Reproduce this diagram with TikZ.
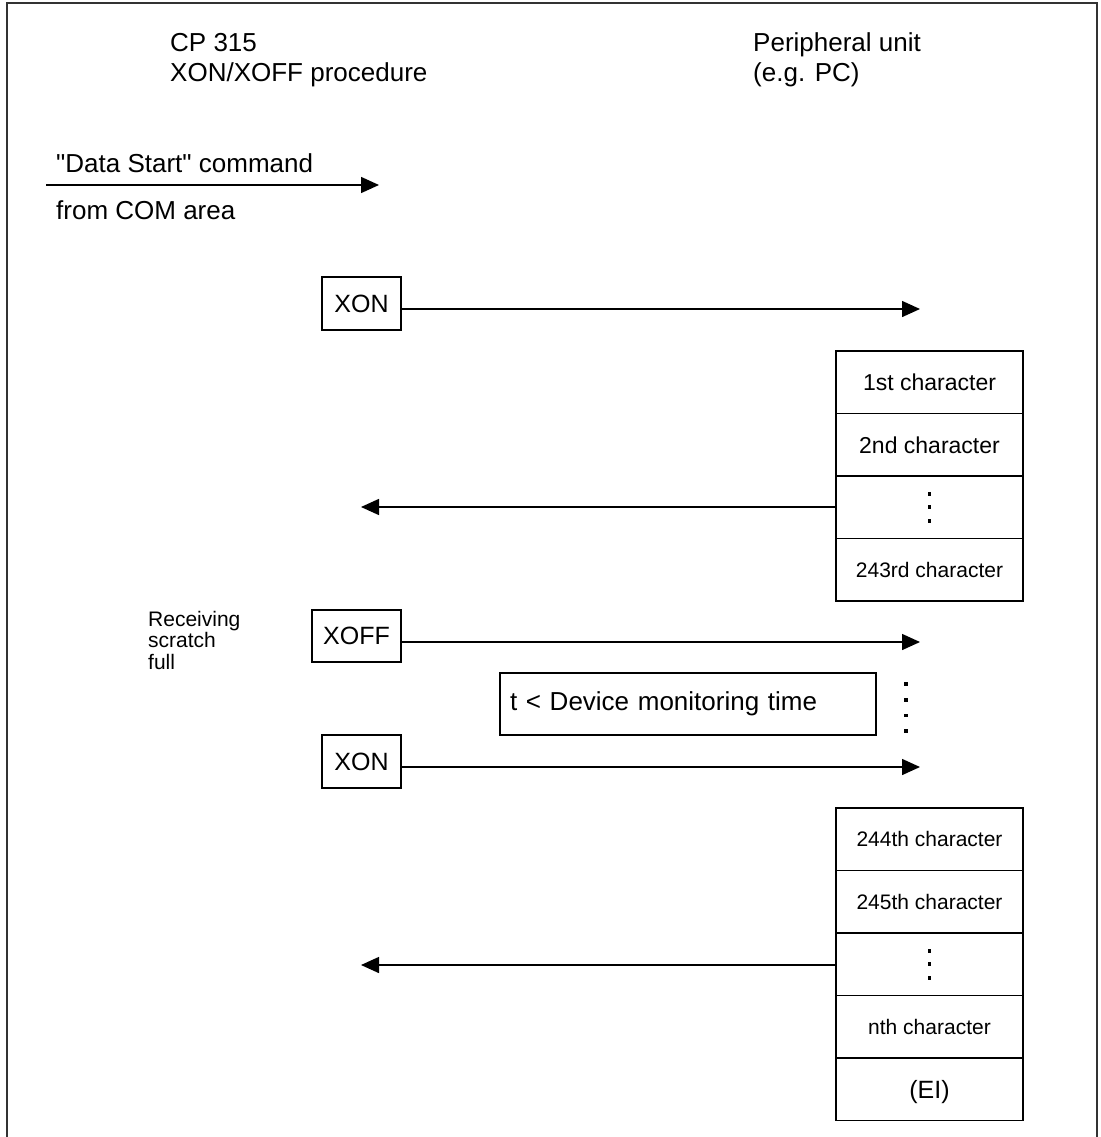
\documentclass[tikz,border=0pt]{standalone}
\usepackage{fontspec}
\setmainfont{Liberation Sans}
\usetikzlibrary{arrows.meta}
\begin{document}
\begin{tikzpicture}[x=1pt,y=-1pt,
  lw/.style={line width=1.5pt},
  frame/.style={line width=1.6pt, draw=black!80},
  head/.style={anchor=base west, inner sep=0pt, font=\fontsize{26}{30}\selectfont},
  note/.style={anchor=base west, inner sep=0pt, font=\fontsize{21}{25}\selectfont},
  sigbox/.style={draw, lw, inner sep=0pt, minimum height=53pt, font=\fontsize{25}{30}\selectfont},
  cell/.style={draw, lw, inner sep=0pt, minimum width=187pt, minimum height=62.5pt, text depth=0pt},
  cellL/.style={cell, font=\fontsize{23}{27}\selectfont, text height=16.5pt},
  cellS/.style={cell, font=\fontsize{21}{25}\selectfont, text height=15.1pt},
  cellE/.style={cell, font=\fontsize{25}{30}\selectfont, text height=18pt},
  msg/.style={lw, -{Triangle[length=18pt,width=16pt]}},
  dot/.style={rectangle, fill, inner sep=0pt, minimum size=3.6pt},
]
\useasboundingbox (0,0) rectangle (1100,1137);

% outer frame
\draw[frame] (7,1137) -- (7,3) -- (1097,3) -- (1097,1137);

% column headings
\node[head] (cp)   at (170,52) {CP 315};
\node[head] (proc) at (170,82) {XON/XOFF procedure};
\node[head] (pu)   at (753,52) {Peripheral unit};
\node[head] (pc)   at (753,82) {(e.g. PC)};

% start command
\node[head] (ds)  at (56,172) {\textquotedbl Data Start\textquotedbl{} command};
\node[head] (com) at (56,219) {from COM area};
\coordinate (s0) at (46,185);
\coordinate (t0) at (379,185);
\draw[msg] (s0) -- (t0);

% first XON
\node[sigbox, minimum width=79pt] (xon1) at (361.5,303.5) {XON};
\coordinate (t1) at (920,309);
\draw[msg] (xon1.east |- t1) -- (t1);

% first block of characters
\node[cellL] (a1) at (929.5,382.25) {1st character};
\node[cellL] (a2) at (929.5,444.75) {2nd character};
\node[cell]  (a3) at (929.5,507.25) {};
\node[cellS] (a4) at (929.5,569.75) {243rd character};
\foreach \d in {-13.5,0,13.5} \node[dot] at ([yshift=\d pt]a3.center) {};
\coordinate (r1) at (361,507);
\draw[msg] (a3.west |- r1) -- (r1);

% XOFF when the buffer is full
\node[note] (rc1) at (148,626) {Receiving};
\node[note] (rc2) at (148,647.5) {scratch};
\node[note] (rc3) at (148,669) {full};
\node[sigbox, minimum width=89pt, minimum height=52pt] (xoff) at (356.5,636) {XOFF};
\coordinate (t2) at (920,642);
\draw[msg] (xoff.east |- t2) -- (t2);

% waiting time
\node[draw, lw, minimum width=376pt, minimum height=62pt, text width=356pt,
      inner xsep=10pt, inner ysep=0pt, align=left, font=\fontsize{26}{30}\selectfont]
  (mon) at (688,704) {t < Device monitoring time};
\foreach \y in {684,699.7,715.3,731} \node[dot] at (906,\y) {};

% second XON
\node[sigbox, minimum width=79pt] (xon2) at (361.5,761.5) {XON};
\coordinate (t3) at (920,767);
\draw[msg] (xon2.east |- t3) -- (t3);

% second block of characters
\node[cellS] (b1) at (929.5,839.25) {244th character};
\node[cellS] (b2) at (929.5,901.75) {245th character};
\node[cell]  (b3) at (929.5,964.25) {};
\node[cellS] (b4) at (929.5,1026.75) {nth character};
\node[cellE] (b5) at (929.5,1089.25) {(EI)};
\foreach \d in {-13.5,0,13.5} \node[dot] at ([yshift=\d pt]b3.center) {};
\coordinate (r2) at (361,965);
\draw[msg] (b3.west |- r2) -- (r2);
\end{tikzpicture}
\end{document}
